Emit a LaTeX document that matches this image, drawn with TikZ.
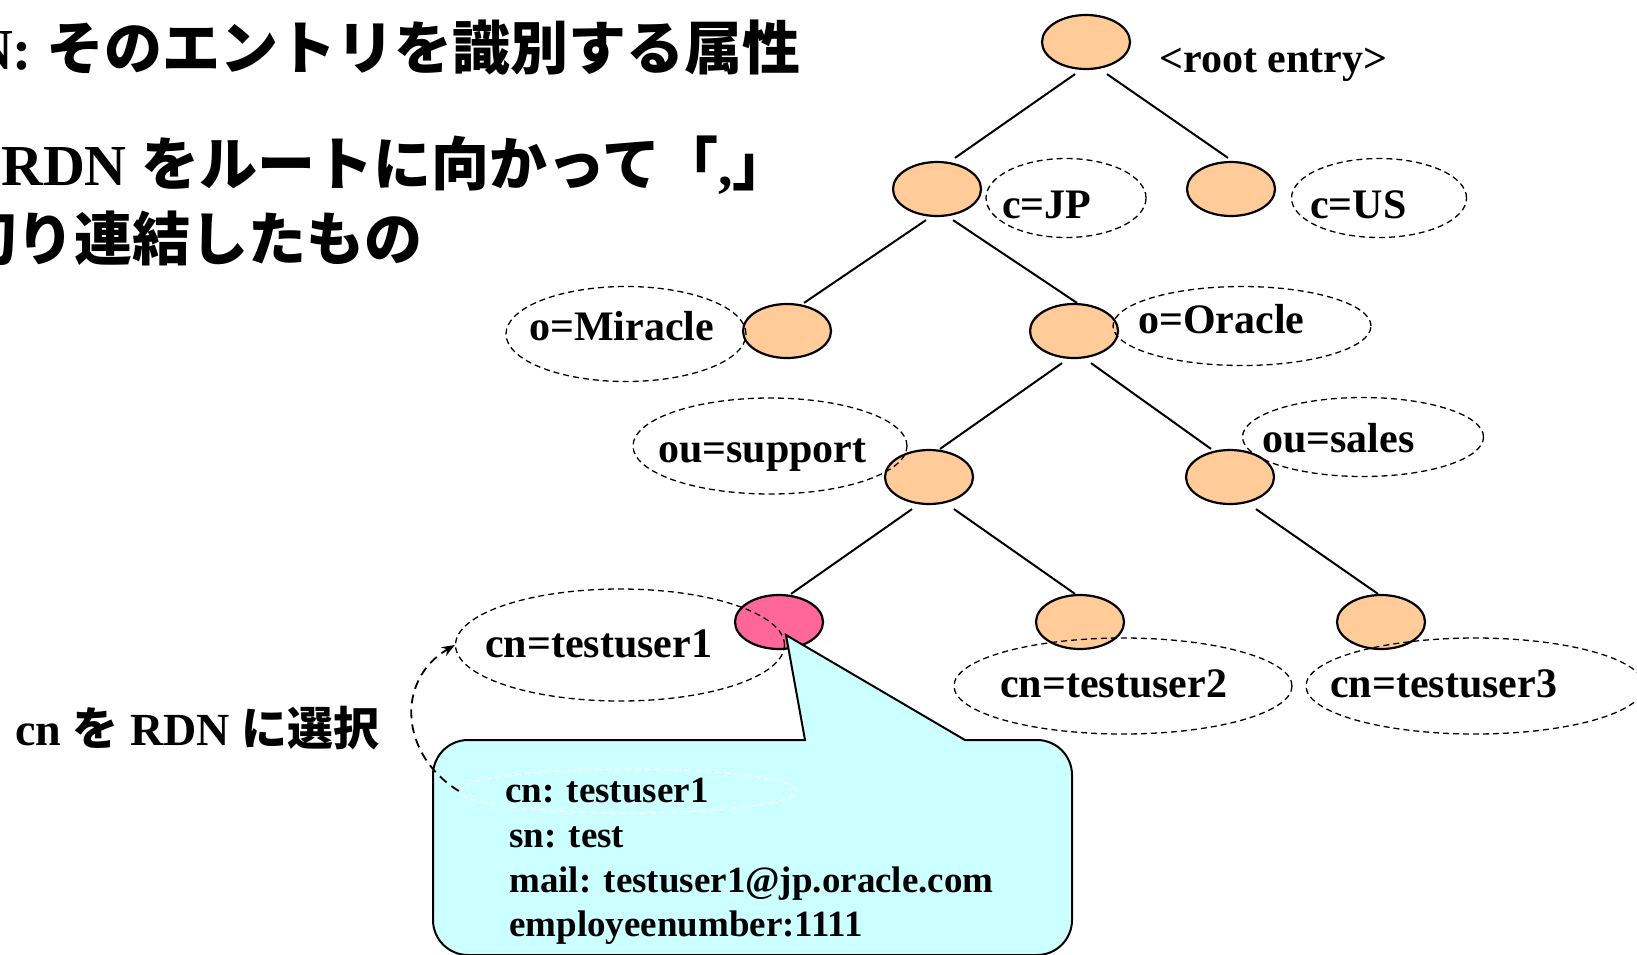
\documentclass[tikz,border=0pt]{standalone}
\usepackage{fontspec}
\setmainfont{Liberation Serif}
\newfontfamily\jpf{Noto Sans CJK JP}
\usetikzlibrary{shapes.geometric,arrows.meta}
\definecolor{peach}{HTML}{FFCC99}
\definecolor{pinkn}{HTML}{FF6699}
\definecolor{callcyan}{HTML}{CCFFFF}
\tikzset{
  entry/.style={ellipse, draw, line width=2.2pt, fill=peach, minimum width=88pt, minimum height=54pt, inner sep=0pt},
  rdnring/.style={ellipse, draw, line width=1.3pt, dash pattern=on 6pt off 4pt, inner sep=0pt},
  edge/.style={line width=2pt},
  lbl/.style={font=\bfseries\fontsize{42}{48}\selectfont, inner sep=0pt, anchor=base west},
  attr/.style={font=\bfseries\fontsize{37}{44}\selectfont, inner sep=0pt, anchor=base west},
  titletxt/.style={font=\bfseries\fontsize{58}{66}\selectfont, inner sep=0pt},
  callout/.style={draw, line width=2pt, fill=callcyan},
}
\begin{document}
\begin{tikzpicture}[x=1pt,y=-1pt]
\clip (0,0) rectangle (1637,954);

% title text
\node[titletxt, anchor=base east] (t1) at (801,69) {RDN: {\jpf そのエントリを識別する属性}};
\node[titletxt, anchor=base west] (t2) at (1,185) {RDN {\jpf をルートに向かって「},{\jpf 」}};
\node[titletxt, anchor=base east] (t3) at (423,260) {\jpf 区切り連結したもの};

% tree entries
\node[entry] (root) at (1086,42) {};
\node[entry] (jp) at (937,189) {};
\node[entry] (us) at (1231,189) {};
\node[entry] (mir) at (787,331) {};
\node[entry] (ora) at (1074,331) {};
\node[entry] (sup) at (929,477) {};
\node[entry] (sal) at (1230,477) {};
\node[entry, fill=pinkn] (tu1) at (779,622) {};
\node[entry] (tu2) at (1080,622) {};
\node[entry] (tu3) at (1381,622) {};

% edges
\draw[edge] ([xshift=-11pt,yshift=-4pt]root.south) -- ([xshift=18pt,yshift=3pt]jp.north);
\draw[edge] ([xshift=21pt,yshift=-4pt]root.south) -- ([xshift=-3pt,yshift=3pt]us.north);
\draw[edge] ([xshift=-11pt,yshift=-3pt]jp.south) -- ([xshift=17pt]mir.north);
\draw[edge] ([xshift=16pt,yshift=-3pt]jp.south) -- ([xshift=3pt]ora.north);
\draw[edge] ([xshift=-12pt,yshift=-4pt]ora.south) -- ([xshift=11pt]sup.north);
\draw[edge] ([xshift=17pt,yshift=-4pt]ora.south) -- ([xshift=-19pt]sal.north);
\draw[edge] ([xshift=-17pt,yshift=-4pt]sup.south) -- ([xshift=12pt]tu1.north);
\draw[edge] ([xshift=25pt,yshift=-4pt]sup.south) -- ([xshift=-5pt]tu2.north);
\draw[edge] ([xshift=26pt,yshift=-4pt]sal.south) -- ([xshift=-3pt]tu3.north);

% callout
\draw[callout] (805,740) -- (786,635) -- (965,740) -- (1037,740)
  arc[start angle=-90, end angle=0, radius=35] -- (1072,920)
  arc[start angle=0, end angle=90, radius=35] -- (468,955)
  arc[start angle=90, end angle=180, radius=35] -- (433,775)
  arc[start angle=180, end angle=270, radius=35] -- cycle;

% RDN label rings
\node[rdnring, minimum width=160pt, minimum height=79pt] (ejp) at (1066,198) {};
\node[rdnring, minimum width=175pt, minimum height=79pt] (eus) at (1379,198) {};
\node[rdnring, minimum width=240pt, minimum height=95pt] (emir) at (626,334) {};
\node[rdnring, minimum width=258pt, minimum height=79pt] (eora) at (1242,326) {};
\node[rdnring, minimum width=274pt, minimum height=96pt] (esup) at (770,446) {};
\node[rdnring, minimum width=241pt, minimum height=79pt] (esal) at (1363,437) {};
\node[rdnring, minimum width=329pt, minimum height=112pt] (etu1) at (620,645) {};
\node[rdnring, minimum width=338pt, minimum height=96pt] (etu2) at (1123,686) {};
\node[rdnring, minimum width=338pt, minimum height=96pt] (etu3) at (1475,686) {};

% labels
\node[lbl] (lroot) at (1159,72) {<root entry>};
\node[lbl] (ljp) at (1002,218) {c=JP};
\node[lbl] (lus) at (1310,218) {c=US};
\node[lbl] (lmir) at (529,340) {o=Miracle};
\node[lbl] (lora) at (1138,333) {o=Oracle};
\node[lbl] (lsup) at (658,462) {ou=support};
\node[lbl] (lsal) at (1262,452) {ou=sales};
\node[lbl] (ltu1) at (485,657) {cn=testuser1};
\node[lbl] (ltu2) at (1000,697) {cn=testuser2};
\node[lbl] (ltu3) at (1330,697) {cn=testuser3};

% callout contents
\node[rdnring, draw=white, minimum width=337pt, minimum height=44pt] (wcn) at (628,791) {};
\node[attr] (a1) at (505,802) {cn: testuser1};
\node[attr] (a2) at (509,847) {sn: test};
\node[attr] (a3) at (509,892) {mail: testuser1@jp.oracle.com};
\node[attr] (a4) at (509,936) {employeenumber:1111};

% selection note
\node[font=\bfseries\fontsize{46}{52}\selectfont, inner sep=0pt, anchor=base west] (sel) at (15,745) {cn {\jpf を} RDN {\jpf に選択}};
\draw[line width=1.8pt, dash pattern=on 9pt off 6pt, -{Stealth[length=13pt,width=10pt]}]
  (wcn.west) .. controls (400,755) and (395,680) .. (etu1.west);
\end{tikzpicture}
\end{document}
